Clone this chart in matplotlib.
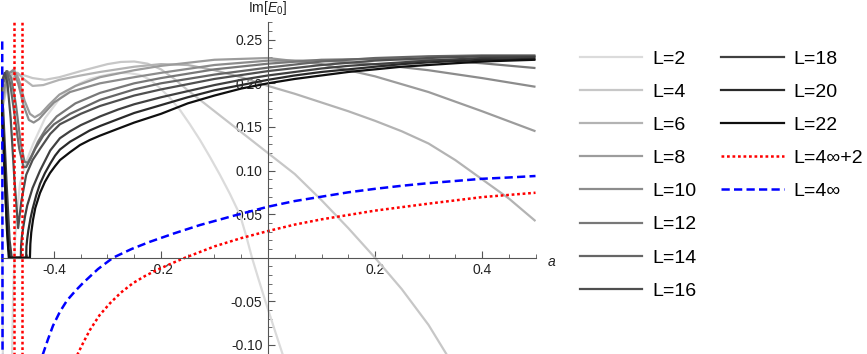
import numpy as np
import matplotlib
matplotlib.use("Agg")
import matplotlib.pyplot as plt
from matplotlib.lines import Line2D
from matplotlib.ticker import MultipleLocator, FormatStrFormatter

plt.rcParams["font.family"] = ["Liberation Sans", "DejaVu Sans"]
plt.rcParams["mathtext.fontset"] = "custom"
plt.rcParams["mathtext.rm"] = "Liberation Sans"
plt.rcParams["mathtext.it"] = "Liberation Sans:italic"

# ---- data: a  vs  Im[E0]
A_L2 = [-0.5, -0.498, -0.4965, -0.4955, np.nan,
        -0.4785, -0.4766, -0.4729, -0.468, -0.4636, -0.452, -0.4393, -0.4168, -0.3888,
        -0.37, -0.3514, -0.333, -0.314, -0.295, -0.2766, -0.258, -0.2393, -0.22, -0.2019,
        -0.183, -0.1645, -0.146, -0.1271, -0.108, -0.0897, -0.071, -0.0523, -0.041,
        -0.0299, -0.018, -0.0056, 0.011, 0.028]
IM_L2 = [0.19, 0.12, 0.0, -0.115, np.nan,
         -0.115, -0.0485, 0.0203, 0.058, 0.085, 0.11, 0.13, 0.16, 0.183,
         0.193, 0.2, 0.205, 0.208, 0.2105, 0.212, 0.2115, 0.2096, 0.204, 0.1946,
         0.183, 0.1694, 0.153, 0.135, 0.115, 0.0949, 0.073, 0.049, 0.0255,
         0.0, -0.024, -0.0485, -0.08, -0.112]

A_L4 = [-0.5, -0.49, -0.475, -0.46, -0.44, -0.417, -0.39, -0.35, -0.3, -0.275, -0.25, -0.225,
        -0.2, -0.175, -0.15, -0.125, -0.1, -0.05, 0.0, 0.05, 0.1, 0.15, 0.2, 0.25, 0.3, 0.335]
IM_L4 = [0.16, 0.19, 0.208, 0.21, 0.206, 0.204, 0.207, 0.214, 0.222, 0.2245, 0.225, 0.2225,
         0.216, 0.205, 0.192, 0.18, 0.168, 0.144, 0.12, 0.096, 0.066, 0.034, 0.0, -0.036,
         -0.077, -0.112]

A_L6 = [-0.5, -0.49, -0.478, -0.468, -0.455, -0.44, -0.42, -0.39, -0.35, -0.314, -0.25, -0.2,
        -0.15, -0.1, -0.05, 0.0, 0.05, 0.1, 0.15, 0.2, 0.25, 0.3, 0.35, 0.4, 0.45, 0.5]
IM_L6 = [0.165, 0.195, 0.211, 0.212, 0.204, 0.197, 0.198, 0.204, 0.209, 0.213, 0.219, 0.222,
         0.221, 0.215, 0.207, 0.197, 0.188, 0.178, 0.168, 0.157, 0.145, 0.131, 0.112, 0.09,
         0.068, 0.042]

A_L8 = [-0.5, -0.492, -0.483, -0.475, -0.466, -0.455, -0.445, -0.436, -0.425, -0.41, -0.39,
        -0.36, -0.314, -0.25, -0.2, -0.1, 0.0, 0.1, 0.2, 0.3, 0.4, 0.5]
IM_L8 = [0.17, 0.195, 0.212, 0.216, 0.205, 0.18, 0.165, 0.161, 0.165, 0.175, 0.187,
         0.197, 0.207, 0.215, 0.22, 0.227, 0.229, 0.222, 0.208, 0.19, 0.168, 0.145]

A_L10 = [-0.5, -0.493, -0.484, -0.476, -0.467, -0.457, -0.447, -0.438, -0.428, -0.415, -0.4,
         -0.37, -0.314, -0.25, -0.2, -0.1, 0.0, 0.1, 0.2, 0.3, 0.4, 0.5]
IM_L10 = [0.175, 0.195, 0.212, 0.214, 0.2, 0.175, 0.158, 0.155, 0.159, 0.168, 0.178,
          0.19, 0.2, 0.207, 0.212, 0.221, 0.226, 0.226, 0.222, 0.215, 0.206, 0.196]

A_L12 = [-0.5, -0.495, -0.487, -0.48, -0.471, -0.462, -0.455, -0.449, -0.442, -0.43, -0.415,
         -0.395, -0.36, -0.314, -0.25, -0.2, -0.1, 0.0, 0.1, 0.2, 0.3, 0.4, 0.5]
IM_L12 = [0.178, 0.2, 0.214, 0.206, 0.175, 0.13, 0.11, 0.109, 0.117, 0.133, 0.148,
          0.162, 0.177, 0.189, 0.2, 0.206, 0.216, 0.2225, 0.227, 0.228, 0.227, 0.223, 0.2175]

A_L14 = [-0.5, -0.496, -0.489, -0.482, -0.474, -0.465, -0.457, -0.452, -0.445, -0.435, -0.42,
         -0.4, -0.37, -0.314, -0.25, -0.2, -0.1, 0.0, 0.1, 0.2, 0.3, 0.4, 0.5]
IM_L14 = [0.18, 0.2, 0.214, 0.2, 0.165, 0.125, 0.104, 0.104, 0.112, 0.125, 0.14,
          0.153, 0.165, 0.181, 0.193, 0.2, 0.21, 0.218, 0.225, 0.229, 0.231, 0.232, 0.232]

A_L16 = [-0.5, -0.496, -0.492, -0.487, -0.481, -0.474, -0.467, -0.461, -0.452, -0.44, -0.426,
         -0.407, -0.389, -0.35, -0.314, -0.25, -0.2, -0.1, 0.0, 0.1, 0.2, 0.3, 0.4, 0.5]
IM_L16 = [0.185, 0.205, 0.212, 0.2, 0.16, 0.09, 0.034, 0.065, 0.095, 0.112, 0.125,
          0.142, 0.153, 0.165, 0.174, 0.186, 0.193, 0.205, 0.214, 0.221, 0.226, 0.229, 0.231, 0.231]

A_L18 = [-0.5, -0.495, -0.489, -0.483, -0.479, -0.462, -0.4615, -0.46, -0.458, -0.454, -0.45,
         -0.44, -0.426, -0.407, -0.389, -0.37, -0.35, -0.314, -0.28, -0.25, -0.2, -0.15, -0.1,
         -0.05, 0.0, 0.05, 0.1, 0.15, 0.2, 0.25, 0.3, 0.4, 0.5]
IM_L18 = [0.2, 0.17, 0.09, 0.02, 0.0, 0.0, 0.014, 0.024, 0.033, 0.048, 0.06,
          0.08, 0.1, 0.123, 0.137, 0.145, 0.152, 0.162, 0.17, 0.176, 0.184, 0.191, 0.198,
          0.204, 0.209, 0.213, 0.217, 0.22, 0.222, 0.224, 0.226, 0.229, 0.23]

A_L20 = [-0.5, -0.496, -0.49, -0.485, -0.482, -0.452, -0.4515, -0.45, -0.448, -0.444, -0.44,
         -0.433, -0.426, -0.417, -0.407, -0.398, -0.389, -0.37, -0.35, -0.333, -0.314, -0.28,
         -0.25, -0.2, -0.15, -0.1, -0.05, 0.0, 0.05, 0.1, 0.15, 0.2, 0.25, 0.3, 0.4, 0.5]
IM_L20 = [0.195, 0.15, 0.06, 0.01, 0.0, 0.0, 0.013, 0.022, 0.031, 0.045, 0.056,
          0.072, 0.085, 0.097, 0.108, 0.117, 0.124, 0.133, 0.14, 0.146, 0.151, 0.159,
          0.166, 0.175, 0.184, 0.192, 0.198, 0.204, 0.209, 0.213, 0.216, 0.219, 0.222,
          0.224, 0.227, 0.228]

A_L22 = [-0.5, -0.4935, -0.488, -0.4845, -0.445, -0.4442, -0.4425, -0.4393, -0.435, -0.4262,
         -0.417, -0.4075, -0.398, -0.3888, -0.37, -0.3514, -0.333, -0.314, -0.28, -0.25, -0.2,
         -0.15, -0.1, -0.05, 0.0, 0.05, 0.1, 0.15, 0.2, 0.25, 0.3, 0.4, 0.5]
IM_L22 = [0.19, 0.1235, 0.032, 0.0, 0.0, 0.016, 0.029, 0.0432, 0.057, 0.0742,
          0.087, 0.0971, 0.105, 0.112, 0.121, 0.1292, 0.135, 0.14, 0.148, 0.155, 0.165,
          0.177, 0.186, 0.194, 0.2, 0.205, 0.209, 0.213, 0.216, 0.219, 0.221, 0.225, 0.227]

# L = 4*inf + 2 (red dotted) and its two poles
A_RED = [-0.357, -0.345, -0.333, -0.315, -0.295, -0.275, -0.252, -0.23, -0.2075, -0.18,
         -0.155, -0.1, -0.05, 0.0, 0.05, 0.1, 0.2, 0.3, 0.4, 0.5]
IM_RED = [-0.112, -0.097, -0.083, -0.066, -0.052, -0.04, -0.029, -0.021, -0.014, -0.0065,
          0.0, 0.013, 0.0225, 0.0306, 0.038, 0.044, 0.054, 0.062, 0.0695, 0.0745]
A_RED_POLES = [-0.4742, -0.4593]

# L = 4*inf (blue dashed)
A_BLUE = [-0.4968, -0.4966, -0.4964, -0.4962, np.nan,
          -0.4215, -0.4115, -0.4019, -0.389, -0.3757, -0.36, -0.3458, -0.3178, -0.2897,
          -0.255, -0.2206, -0.175, -0.127, -0.065, 0.0, 0.05, 0.1, 0.15, 0.2, 0.25, 0.3,
          0.35, 0.4, 0.45, 0.5]
IM_BLUE = [0.248, 0.15, 0.05, -0.115, np.nan,
           -0.112, -0.094, -0.078, -0.062, -0.049, -0.038, -0.029, -0.013, 0.0,
           0.01, 0.0183, 0.028, 0.0375, 0.048, 0.0585, 0.065, 0.070, 0.075, 0.079, 0.0825,
           0.0855, 0.088, 0.0905, 0.092, 0.0937]

SIZES = [2, 4, 6, 8, 10, 12, 14, 16, 18, 20, 22]
GRAYS = [0.86, 0.78, 0.70, 0.61, 0.55, 0.47, 0.40, 0.31, 0.25, 0.165, 0.06]

curves = [(A_L2, IM_L2), (A_L4, IM_L4), (A_L6, IM_L6), (A_L8, IM_L8), (A_L10, IM_L10),
          (A_L12, IM_L12), (A_L14, IM_L14), (A_L16, IM_L16), (A_L18, IM_L18),
          (A_L20, IM_L20), (A_L22, IM_L22)]

fig = plt.figure(figsize=(8.67, 3.54), dpi=100)
ax = fig.add_axes([0.5 / 867, 0.0, 535 / 867, 332 / 354])
ax.set_xlim(-0.5, 0.5)
ax.set_ylim(-0.1104, 0.2703)

handles = []
labels = []
for L, g, (a, im) in zip(SIZES, GRAYS, curves):
    col = str(g)
    ax.plot(a, im, color=col, lw=1.6, solid_joinstyle="round", solid_capstyle="butt")
    handles.append(Line2D([], [], color=col, lw=1.6))
    labels.append(f"L={L}")

red_style = dict(color="red", lw=1.8, linestyle=(0, (1.1, 1.1)))
blue_style = dict(color="blue", lw=1.8, linestyle=(0, (3.3, 1.7)))

ax.plot(A_RED, IM_RED, **red_style)
for ap in A_RED_POLES:
    ax.plot([ap, ap], [-0.12, 0.28], **red_style)
ax.plot(A_BLUE, IM_BLUE, **blue_style)

handles += [Line2D([], [], **red_style), Line2D([], [], **blue_style)]
labels += ["L=4\u221e+2", "L=4\u221e"]
for _ in range(3):
    handles.append(Line2D([], [], alpha=0))
    labels.append(" ")

# ---- Mathematica-style axes through the origin
for s in ["top", "right"]:
    ax.spines[s].set_visible(False)
ax.spines["left"].set_position(("data", 0))
ax.spines["bottom"].set_position(("data", 0))
for s in ["left", "bottom"]:
    ax.spines[s].set_color("#555555")
    ax.spines[s].set_linewidth(0.8)
ax.set_axisbelow(True)

ax.set_xticks([-0.4, -0.2, 0.2, 0.4])
ax.set_yticks([-0.1, -0.05, 0.05, 0.1, 0.15, 0.2, 0.25])
ax.xaxis.set_minor_locator(MultipleLocator(0.05))
ax.yaxis.set_minor_locator(MultipleLocator(0.01))
ax.xaxis.set_major_formatter(FormatStrFormatter("%.1f"))
ax.yaxis.set_major_formatter(FormatStrFormatter("%.2f"))
ax.tick_params(which="major", direction="in", length=5, width=0.8, color="#555555",
               labelsize=10, labelcolor="#222222")
ax.tick_params(which="minor", direction="in", length=3, width=0.6, color="#555555")
ax.tick_params(axis="y", pad=4)
ax.tick_params(axis="x", pad=4)

fig.text(268 / 867, 1 - 8 / 354, r"Im[$E_0$]", ha="center", va="center", fontsize=10,
         color="#222222")
fig.text(552 / 867, 1 - 262 / 354, r"$a$", ha="center", va="center", fontsize=10,
         color="#222222")

fig.legend(handles, labels, ncol=2, loc="upper left",
           bbox_to_anchor=(580 / 867, 1 - 50 / 354), frameon=False, fontsize=14,
           handlelength=3.2, handletextpad=0.5, labelspacing=0.8, columnspacing=1.3,
           borderpad=0, borderaxespad=0)

fig.savefig("out.png", dpi=100)
